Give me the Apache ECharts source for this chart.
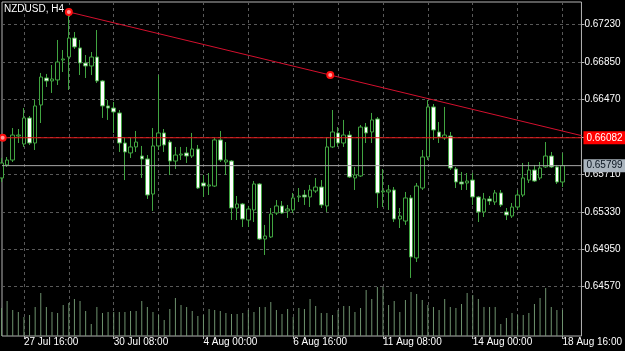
<!DOCTYPE html>
<html>
<head>
<meta charset="utf-8">
<title>NZDUSD, H4</title>
<script src="https://cdn.jsdelivr.net/npm/echarts@6.0.0/dist/echarts.min.js"></script>
<style>
  html, body { margin: 0; padding: 0; background: #000; }
  #chart { width: 625px; height: 351px; }
</style>
</head>
<body>
<div id="chart"></div>
<script>
// H4 bars, index 0 = first visible bar (27 Jul 16:00 is bar 4)
const opens = [
  0.65674, 0.65806, 0.65856, 0.66100, 0.66019, 0.66283, 0.66029, 0.66415, 0.66689, 0.66659,
  0.66669, 0.66872, 0.66902, 0.67095, 0.66994, 0.66841, 0.66811, 0.66902, 0.66659, 0.66405,
  0.66384, 0.66334, 0.66029, 0.65928, 0.65989, 0.65897, 0.65867, 0.65511, 0.65999, 0.66131,
  0.66039, 0.65846, 0.65907, 0.65928, 0.65897, 0.65968, 0.65623, 0.65592, 0.65592, 0.66060,
  0.65836, 0.65846, 0.65369, 0.65410, 0.65247, 0.65349, 0.65613, 0.65054, 0.65075, 0.65318,
  0.65390, 0.65339, 0.65349, 0.65481, 0.65501, 0.65481, 0.65542, 0.65582, 0.65390, 0.65989,
  0.66131, 0.66029, 0.66110, 0.65674, 0.65694, 0.66191, 0.66141, 0.66273, 0.65532, 0.65532,
  0.65552, 0.65257, 0.65237, 0.65471, 0.64862, 0.65572, 0.65887, 0.66395, 0.66141, 0.66080,
  0.66100, 0.65765, 0.65633, 0.65623, 0.65653, 0.65481, 0.65329, 0.65461, 0.65430, 0.65522,
  0.65329, 0.65288, 0.65379, 0.65501, 0.65653, 0.65755, 0.65674, 0.65786, 0.65897, 0.65786,
  0.65633
]
const closes = [
  0.65826, 0.65856, 0.66110, 0.66110, 0.66283, 0.66029, 0.66405, 0.66699, 0.66659, 0.66679,
  0.66851, 0.66882, 0.67095, 0.67004, 0.66841, 0.66811, 0.66902, 0.66659, 0.66405, 0.66384,
  0.66344, 0.66029, 0.65938, 0.65989, 0.66039, 0.65867, 0.65501, 0.65999, 0.66131, 0.66009,
  0.65846, 0.65907, 0.65917, 0.65897, 0.65968, 0.65572, 0.65592, 0.65603, 0.66060, 0.65856,
  0.65856, 0.65369, 0.65410, 0.65257, 0.65359, 0.65613, 0.65054, 0.65085, 0.65308, 0.65390,
  0.65318, 0.65359, 0.65471, 0.65491, 0.65481, 0.65552, 0.65582, 0.65400, 0.65989, 0.66141,
  0.66029, 0.66110, 0.65684, 0.65704, 0.66191, 0.66131, 0.66263, 0.65522, 0.65542, 0.65552,
  0.65257, 0.65288, 0.65471, 0.64872, 0.65592, 0.65887, 0.66395, 0.66161, 0.66090, 0.66110,
  0.65775, 0.65633, 0.65613, 0.65643, 0.65481, 0.65329, 0.65461, 0.65440, 0.65522, 0.65400,
  0.65298, 0.65379, 0.65501, 0.65674, 0.65755, 0.65643, 0.65775, 0.65897, 0.65786, 0.65633,
  0.65799
]
const lows = [
  0.65633, 0.65786, 0.65836, 0.66029, 0.65989, 0.66009, 0.65958, 0.66232, 0.66598, 0.66537,
  0.66618, 0.66750, 0.66567, 0.66984, 0.66719, 0.66689, 0.66719, 0.66638, 0.66283, 0.66263,
  0.66131, 0.65938, 0.65653, 0.65877, 0.65938, 0.65674, 0.65461, 0.65339, 0.65958, 0.65938,
  0.65704, 0.65765, 0.65856, 0.65826, 0.65877, 0.65562, 0.65481, 0.65501, 0.65582, 0.65836,
  0.65704, 0.65247, 0.65247, 0.65176, 0.65176, 0.65227, 0.65044, 0.64892, 0.65065, 0.65298,
  0.65308, 0.65268, 0.65318, 0.65430, 0.65400, 0.65379, 0.65522, 0.65369, 0.65329, 0.65978,
  0.65989, 0.65989, 0.65674, 0.65552, 0.65684, 0.66029, 0.66029, 0.65369, 0.65379, 0.65349,
  0.65227, 0.65166, 0.65197, 0.64659, 0.64821, 0.65552, 0.65856, 0.66060, 0.66029, 0.66060,
  0.65755, 0.65572, 0.65552, 0.65552, 0.65400, 0.65227, 0.65278, 0.65400, 0.65400, 0.65379,
  0.65247, 0.65268, 0.65349, 0.65481, 0.65623, 0.65633, 0.65653, 0.65775, 0.65775, 0.65613,
  0.65582
]
const highs = [
  0.65877, 0.65887, 0.66181, 0.66171, 0.66384, 0.66303, 0.66466, 0.66740, 0.66730, 0.66821,
  0.67075, 0.66973, 0.67359, 0.67156, 0.67075, 0.66922, 0.66953, 0.67176, 0.66669, 0.66466,
  0.66445, 0.66364, 0.66080, 0.66080, 0.66151, 0.65999, 0.65907, 0.66181, 0.66719, 0.66171,
  0.66060, 0.65989, 0.65989, 0.65989, 0.66131, 0.66009, 0.65704, 0.65724, 0.66080, 0.66151,
  0.66039, 0.65856, 0.65491, 0.65420, 0.65390, 0.65643, 0.65623, 0.65197, 0.65369, 0.65450,
  0.65440, 0.65400, 0.65522, 0.65572, 0.65552, 0.65603, 0.65674, 0.65653, 0.66090, 0.66364,
  0.66191, 0.66263, 0.66151, 0.65786, 0.66212, 0.66232, 0.66334, 0.66293, 0.65765, 0.65603,
  0.65582, 0.65369, 0.65532, 0.65501, 0.65623, 0.65958, 0.66466, 0.66425, 0.66242, 0.66395,
  0.66141, 0.65786, 0.65735, 0.65724, 0.65724, 0.65491, 0.65522, 0.65491, 0.65552, 0.65552,
  0.65369, 0.65420, 0.65552, 0.65826, 0.65836, 0.65806, 0.65836, 0.66039, 0.65938, 0.65806,
  0.65928
]
// tick volume, relative
const volumes = [
  28, 35, 26, 24, 19, 21, 29, 43, 29, 24,
  23, 31, 33, 37, 35, 25, 12, 29, 23, 24,
  24, 24, 24, 25, 25, 35, 29, 24, 21, 16,
  27, 38, 31, 29, 25, 20, 21, 27, 26, 25,
  23, 22, 22, 23, 26, 24, 29, 29, 34, 26,
  22, 27, 19, 28, 27, 37, 30, 23, 23, 21,
  26, 30, 30, 24, 28, 46, 37, 49, 49, 31,
  35, 24, 36, 44, 42, 36, 31, 29, 26, 37,
  29, 28, 32, 43, 41, 37, 29, 29, 29, 12,
  18, 23, 21, 21, 23, 32, 38, 48, 29, 26,
  26
]

const labelBars = [4, 20, 36, 52, 68, 84, 100]
const timeLabels = ['27 Jul 16:00', '30 Jul 08:00', '4 Aug 00:00', '6 Aug 16:00', '11 Aug 08:00', '14 Aug 00:00', '18 Aug 16:00']
const gridBars = [4, 12, 20, 28, 36, 44, 52, 60, 68, 76, 84, 92, 100]
const priceTicks = [0.64570, 0.64950, 0.65330, 0.65710, 0.66090, 0.66470, 0.66850, 0.67230]
const priceLabels = [0.64570, 0.64950, 0.65330, 0.65710, 0.66470, 0.66850, 0.67230]

// drawn objects
const trendX = [12, 58.6, 103.38]
const trendY = [0.67359, 0.66719, 0.66104]
const levelPrice = 0.66082
const bidPrice = 0.65799

const X_MIN = 0.089
const X_MAX = 103.378
const Y_MIN = 0.640696
const Y_MAX = 0.674605
const FONT = '"Liberation Sans", Arial, sans-serif'
const GRID_COLOR = '#595959'
const BAR_GREEN = '#41a541'

const chart = echarts.init(document.getElementById('chart'))

function priceTag(price, bg, fg) {
  return {
    show: true,
    distance: 2,
    formatter: () => price.toFixed(5),
    color: fg,
    backgroundColor: bg,
    padding: [2, 3, 1, 3],
    fontSize: 10,
    fontFamily: FONT
  }
}

chart.setOption({
  backgroundColor: '#000000',
  animation: false,
  title: {
    text: 'NZDUSD, H4',
    left: 4,
    top: 4,
    padding: 0,
    textStyle: { color: '#ffffff', fontSize: 10, fontWeight: 'normal', fontFamily: FONT }
  },
  grid: {
    left: 2,
    top: 2,
    right: 42,
    bottom: 15,
    show: true,
    borderColor: '#b4b4b4',
    borderWidth: 1
  },
  xAxis: [
    {
      type: 'value',
      min: X_MIN,
      max: X_MAX,
      axisLine: { show: false },
      axisTick: {
        show: true,
        customValues: labelBars,
        length: 3,
        lineStyle: { color: '#b4b4b4' }
      },
      axisLabel: {
        customValues: labelBars,
        formatter: v => timeLabels[labelBars.indexOf(Math.round(v))],
        color: '#ffffff',
        fontSize: 10,
        fontFamily: FONT,
        align: 'left',
        margin: 1
      },
      splitLine: { show: false }
    },
    {
      type: 'value',
      min: X_MIN,
      max: X_MAX,
      position: 'bottom',
      axisLine: { show: false },
      axisLabel: { show: false },
      axisTick: { show: false, customValues: gridBars },
      splitLine: { show: true, lineStyle: { color: GRID_COLOR, type: [3, 3] } }
    }
  ],
  yAxis: [
    {
      type: 'value',
      position: 'right',
      min: Y_MIN,
      max: Y_MAX,
      axisLine: { show: false },
      axisTick: {
        show: true,
        customValues: priceTicks,
        length: 3,
        lineStyle: { color: '#b4b4b4' }
      },
      axisLabel: {
        customValues: priceLabels,
        formatter: v => v.toFixed(5),
        color: '#ffffff',
        fontSize: 10,
        fontFamily: FONT,
        margin: 3
      },
      splitLine: { show: true, lineStyle: { color: GRID_COLOR, type: [3, 3] } }
    },
    {
      type: 'value',
      min: 0,
      max: 334,
      show: false
    }
  ],
  series: [
    {
      name: 'Volume',
      type: 'bar',
      xAxisIndex: 0,
      yAxisIndex: 1,
      barWidth: 1,
      silent: true,
      itemStyle: { color: '#6e926e' },
      data: volumes.map((v, i) => [i, v])
    },
    {
      name: 'bid',
      type: 'line',
      xAxisIndex: 0,
      yAxisIndex: 0,
      silent: true,
      symbol: 'none',
      lineStyle: { color: '#a8a8a8', width: 1 },
      data: [[X_MIN, bidPrice], [X_MAX, bidPrice]],
      endLabel: priceTag(bidPrice, '#aab4be', '#0a1420')
    },
    {
      name: 'NZDUSD',
      type: 'candlestick',
      xAxisIndex: 0,
      yAxisIndex: 0,
      barWidth: 4,
      silent: true,
      itemStyle: {
        color: '#000000',
        color0: '#ffffff',
        borderColor: BAR_GREEN,
        borderColor0: BAR_GREEN,
        borderWidth: 1
      },
      data: opens.map((o, i) => [i, o, closes[i], lows[i], highs[i]])
    },
    {
      name: 'level',
      type: 'line',
      xAxisIndex: 0,
      yAxisIndex: 0,
      silent: true,
      symbol: 'circle',
      symbolSize: 6,
      showSymbol: true,
      lineStyle: { color: '#e81818', width: 1 },
      itemStyle: { color: '#ff9a9a', borderColor: '#ff1010', borderWidth: 2 },
      data: [
        [0.2, levelPrice],
        { value: [X_MAX, levelPrice], symbol: 'none' }
      ],
      endLabel: priceTag(levelPrice, '#ff0000', '#ffffff')
    },
    {
      name: 'trend',
      type: 'line',
      xAxisIndex: 0,
      yAxisIndex: 0,
      silent: true,
      symbol: 'circle',
      symbolSize: 6,
      lineStyle: { color: '#d4102e', width: 1 },
      itemStyle: { color: '#ff9a9a', borderColor: '#ff1010', borderWidth: 2 },
      data: trendX.map((x, i) => i < 2 ? [x, trendY[i]] : { value: [x, trendY[i]], symbol: 'none' })
    }
  ]
})
</script>
</body>
</html>
